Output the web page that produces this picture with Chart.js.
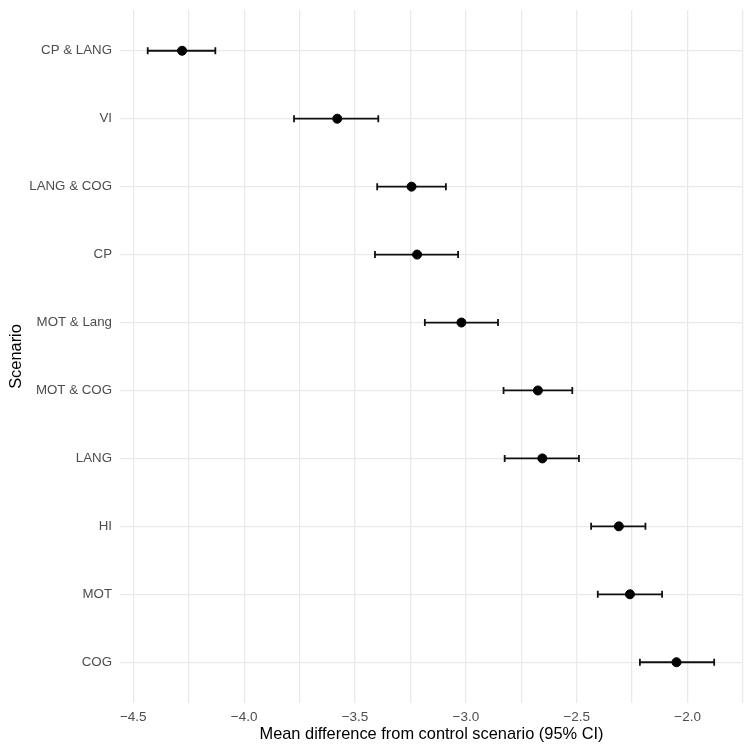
<!DOCTYPE html>
<html>
<head>
<meta charset="utf-8">
<script src="https://cdn.jsdelivr.net/npm/chart.js@4"></script>
<style>
  body { margin: 0; background: #fff; }
  #wrap { width: 752px; height: 751px; }
</style>
</head>
<body>
<div id="wrap"><canvas id="myChart" width="752" height="751"></canvas></div>
<script>
// Data (top to bottom)
const scenarios = ['CP & LANG', 'VI', 'LANG & COG', 'CP', 'MOT & Lang', 'MOT & COG', 'LANG', 'HI', 'MOT', 'COG'];
const meanDiff = [-4.28, -3.58, -3.245, -3.22, -3.02, -2.675, -2.655, -2.31, -2.26, -2.05];
const ciLower = [-4.435, -3.775, -3.40, -3.41, -3.185, -2.83, -2.825, -2.435, -2.405, -2.215];
const ciUpper = [-4.13, -3.395, -3.09, -3.035, -2.855, -2.52, -2.49, -2.19, -2.115, -1.88];
const xTicks = [-4.5, -4.25, -4.0, -3.75, -3.5, -3.25, -3.0, -2.75, -2.5, -2.25, -2.0, -1.75];

const font = "'Liberation Sans', Arial, sans-serif";

// draws the CI whiskers with caps using chart scales
const errorBars = {
    id: 'errorBars',
    beforeDatasetsDraw(chart) {
        const ctx = chart.ctx;
        const xs = chart.scales.x, ys = chart.scales.y;
        ctx.save();
        ctx.strokeStyle = '#111';
        ctx.lineWidth = 1.8;
        scenarios.forEach((s, i) => {
            const x1 = xs.getPixelForValue(ciLower[i]);
            const x2 = xs.getPixelForValue(ciUpper[i]);
            const y = ys.getPixelForValue(i);
            ctx.beginPath();
            ctx.moveTo(x1, y); ctx.lineTo(x2, y);
            ctx.moveTo(x1, y - 3.5); ctx.lineTo(x1, y + 3.5);
            ctx.moveTo(x2, y - 3.5); ctx.lineTo(x2, y + 3.5);
            ctx.stroke();
        });
        ctx.restore();
    }
};

const ctx = document.getElementById('myChart').getContext('2d');
const myChart = new Chart(ctx, {
    type: 'scatter',
    data: {
        datasets: [{
            data: meanDiff.map((m, i) => ({ x: m, y: i })),
            backgroundColor: '#000',
            borderColor: '#000',
            pointRadius: 4.5,
            pointHoverRadius: 4.5
        }]
    },
    options: {
        responsive: false,
        animation: false,
        layout: { padding: { top: 10, right: 9, left: 7, bottom: 7 } },
        plugins: { legend: { display: false }, tooltip: { enabled: false } },
        scales: {
            x: {
                type: 'linear',
                min: -4.56,
                max: -1.75,
                afterBuildTicks: scale => { scale.ticks = xTicks.map(v => ({ value: v })); },
                afterFit: scale => { scale.height = 41; scale.paddingLeft = 0; scale.paddingRight = 0; },
                border: { display: false },
                grid: { color: '#e9e9e9', lineWidth: 1.3, drawTicks: false },
                ticks: {
                    autoSkip: false,
                    maxRotation: 0,
                    padding: 6,
                    color: '#4d4d4d',
                    font: { family: font, size: 13.5 },
                    callback: v => (Math.abs(v * 2 - Math.round(v * 2)) < 1e-6) ? v.toFixed(1).replace('-', '\u2212') : ''
                },
                title: {
                    display: true,
                    text: 'Mean difference from control scenario (95% CI)',
                    color: '#000',
                    font: { family: font, size: 16.4 },
                    padding: { top: 0, bottom: 0 }
                }
            },
            y: {
                type: 'linear',
                min: -0.6,
                max: 9.6,
                reverse: true,
                afterBuildTicks: scale => { scale.ticks = scenarios.map((s, i) => ({ value: i })); },
                afterFit: scale => { scale.width = 113; scale.paddingTop = 0; scale.paddingBottom = 0; },
                border: { display: false },
                grid: { color: '#e9e9e9', lineWidth: 1.3, drawTicks: false },
                ticks: {
                    autoSkip: false,
                    padding: 8,
                    color: '#4d4d4d',
                    font: { family: font, size: 13.3 },
                    callback: v => scenarios[v]
                },
                title: {
                    display: true,
                    text: 'Scenario',
                    color: '#000',
                    font: { family: font, size: 16.4 },
                    padding: { top: 0, bottom: 0 }
                }
            }
        }
    },
    plugins: [errorBars]
});
</script>
</body>
</html>
